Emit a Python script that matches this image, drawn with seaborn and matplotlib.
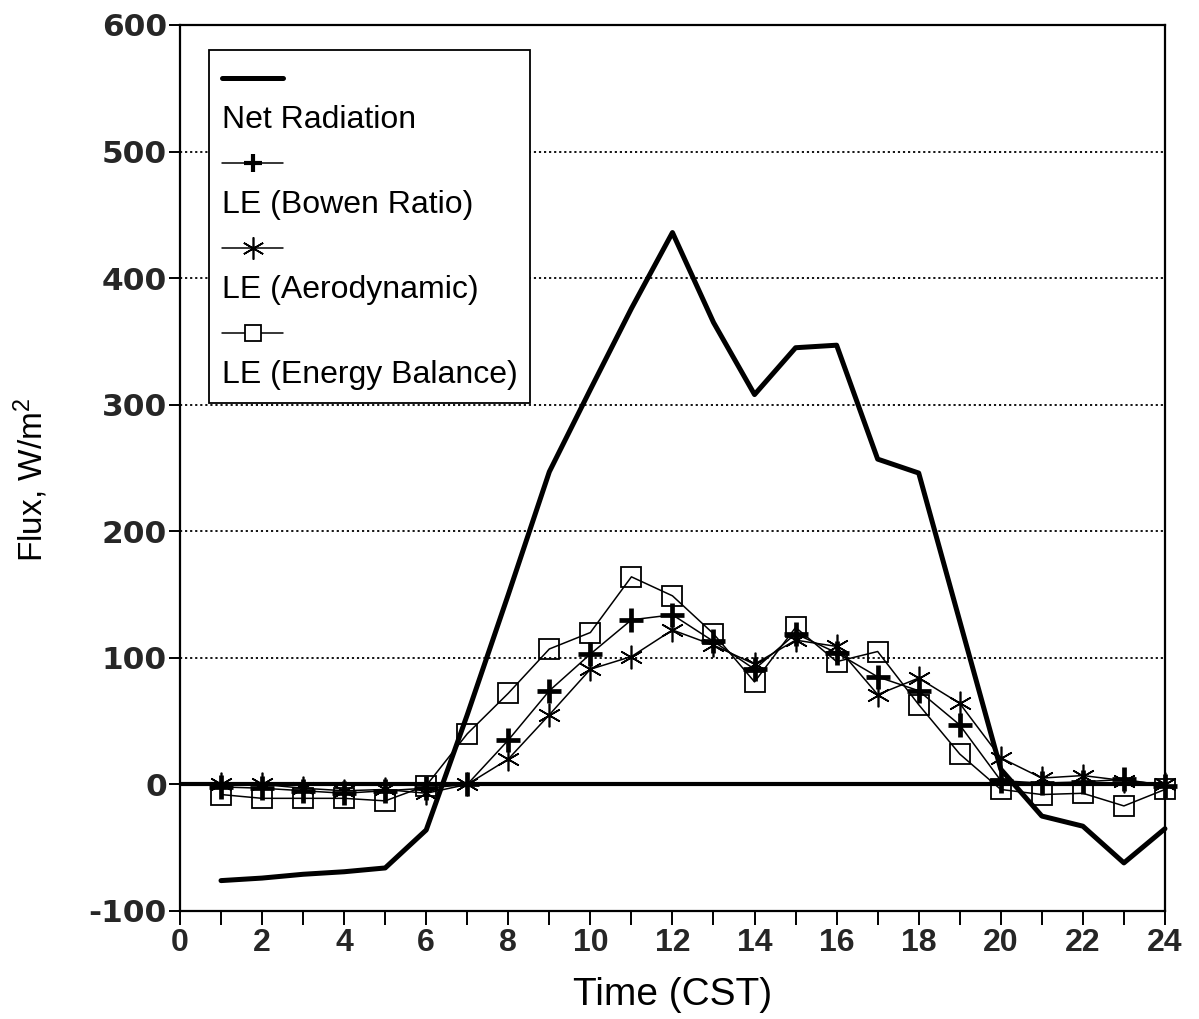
import matplotlib
matplotlib.use("Agg")
import numpy as np
import pandas as pd
import seaborn as sns
import matplotlib.pyplot as plt
from matplotlib.lines import Line2D
from matplotlib.legend_handler import HandlerBase

# Hourly surface energy fluxes (W/m^2), hours 1-24 CST
hours = list(range(1, 25))
net_radiation = [-76, -74, -71, -69, -66, -36, 55, 150, 247, 312, 376, 436,
                 365, 308, 345, 347, 257, 246, 129, 12, -25, -33, -62, -35]
le_bowen = [-2, -3, -5, -7, -5, -3, 0, 35, 74, 103, 130, 134,
            113, 91, 119, 104, 85, 74, 47, 3, 1, 2, 4, -1]
le_aero = [0, 0, -3, -5, -4, -7, 0, 20, 55, 91, 101, 122,
           110, 95, 114, 109, 71, 84, 64, 21, 5, 7, 3, 0]
le_energy = [-8, -11, -11, -11, -13, -1, 40, 72, 107, 120, 164, 149,
             119, 81, 124, 97, 105, 63, 24, -4, -8, -7, -17, -4]

series_labels = ["Net Radiation", "LE (Bowen Ratio)", "LE (Aerodynamic)",
                 "LE (Energy Balance)"]
x_ticks = list(range(0, 25, 2))
y_ticks = list(range(-100, 601, 100))

df = pd.DataFrame({"hour": hours, "net": net_radiation, "bowen": le_bowen,
                   "aero": le_aero, "energy": le_energy})

sns.set_theme(style="white")
plt.rcParams["font.family"] = ["Liberation Sans", "DejaVu Sans"]
plt.rcParams["mathtext.fontset"] = "custom"
plt.rcParams["mathtext.rm"] = "Liberation Sans"
plt.rcParams["mathtext.it"] = "Liberation Sans:italic"
plt.rcParams["mathtext.bf"] = "Liberation Sans:bold"

fig = plt.figure(figsize=(11.99, 10.19), dpi=100)
ax = fig.add_axes([0.1501, 0.1060, 0.8215, 0.8695])

asterisk = (6, 2, 0)
styles = {
    "net": dict(color="black", linewidth=3.6, marker=None),
    "bowen": dict(color="black", linewidth=1.1, marker="+", markersize=17,
                  markeredgewidth=3.4, markeredgecolor="black"),
    "aero": dict(color="black", linewidth=1.1, marker=asterisk, markersize=17,
                 markeredgewidth=1.2, markeredgecolor="black"),
    "energy": dict(color="black", linewidth=1.1, marker="s", markersize=15,
                   markeredgewidth=1.3, markeredgecolor="black",
                   markerfacecolor="none"),
}

# dotted reference lines and the solid zero line
ax.yaxis.grid(True, color="black", linestyle=(0, (1.2, 1.6)), linewidth=1.3)
ax.xaxis.grid(False)
ax.axhline(0, color="black", linewidth=3.0, zorder=1.5)

for col in ["net", "bowen", "aero", "energy"]:
    kw = {k: v for k, v in styles[col].items() if v is not None}
    sns.lineplot(data=df, x="hour", y=col, ax=ax, clip_on=False, zorder=3, **kw)

ax.set_xlim(0, 24)
ax.set_ylim(-100, 600)
ax.set_xticks(x_ticks)
ax.set_xticks(list(range(1, 25, 2)), minor=True)
ax.set_yticks(y_ticks)
ax.set_xticklabels([str(t) for t in x_ticks], fontsize=23, fontweight="bold")
ax.set_yticklabels([str(t) for t in y_ticks], fontsize=22.5, fontweight="bold",
                   family=["DejaVu Sans"])
ax.tick_params(which="both", bottom=True, left=True, direction="out",
               color="black", width=1.4)
ax.tick_params(axis="x", which="both", length=10, pad=2)
ax.tick_params(axis="y", which="major", length=8, pad=1.5)

for sp in ax.spines.values():
    sp.set_color("black")
    sp.set_linewidth(1.6)

ax.set_xlabel("Time (CST)", fontsize=28, labelpad=14, color="black")
ax.set_ylabel("Flux, W/m$^{2}$", fontsize=24, color="black")
ax.yaxis.set_label_coords(-0.132, 0.486)


class HandleOverLabel(HandlerBase):
    """Draws a legend sample of fixed width, independent of handlelength."""

    def __init__(self, width, drop=0.0):
        super().__init__()
        self.width = width
        self.drop = drop

    def create_artists(self, legend, orig, xdescent, ydescent, width, height,
                       fontsize, trans):
        y = height / 2 - ydescent - self.drop * fontsize
        x0 = -xdescent
        w = self.width * fontsize
        arts = [Line2D([x0, x0 + w], [y, y], color=orig.get_color(),
                       linewidth=orig.get_linewidth(), transform=trans)]
        if orig.get_marker() not in (None, "None", ""):
            arts.append(Line2D([x0 + w / 2], [y], linestyle="none",
                               marker=orig.get_marker(),
                               markersize=orig.get_markersize(),
                               markeredgewidth=orig.get_markeredgewidth(),
                               markeredgecolor=orig.get_markeredgecolor(),
                               markerfacecolor=orig.get_markerfacecolor(),
                               transform=trans))
        return arts


class NoHandle(HandlerBase):
    def create_artists(self, legend, orig, xdescent, ydescent, width, height,
                       fontsize, trans):
        return [Line2D([], [], visible=False, transform=trans)]


h_net = Line2D([], [], color="black", linewidth=3.6)
h_bowen = Line2D([], [], color="black", linewidth=1.1, marker="+",
                 markersize=13, markeredgewidth=3.0, markeredgecolor="black")
h_aero = Line2D([], [], color="black", linewidth=1.1, marker=asterisk,
                markersize=16, markeredgewidth=1.2, markeredgecolor="black")
h_energy = Line2D([], [], color="black", linewidth=1.1, marker="s",
                  markersize=12, markeredgewidth=1.3, markeredgecolor="black",
                  markerfacecolor="white")
blank = Line2D([], [])

handles, labels = [], []
for h, lab in zip([h_net, h_bowen, h_aero, h_energy], series_labels):
    handles += [h, blank]
    labels += [" ", lab]

hmap = {h: HandleOverLabel(1.93, drop=0.12)
        for h in [h_net, h_bowen, h_aero, h_energy]}
hmap[blank] = NoHandle()

leg = ax.legend(handles, labels, handler_map=hmap, loc="upper left",
                bbox_to_anchor=(0.0294, 0.972), borderaxespad=0,
                handlelength=0, handletextpad=0, labelspacing=0.39,
                borderpad=0.4, fancybox=False, framealpha=1,
                edgecolor="black", fontsize=23)
leg.get_frame().set_linewidth(1.3)
for t in leg.get_texts():
    t.set_color("black")

fig.savefig("out.png", dpi=100)
